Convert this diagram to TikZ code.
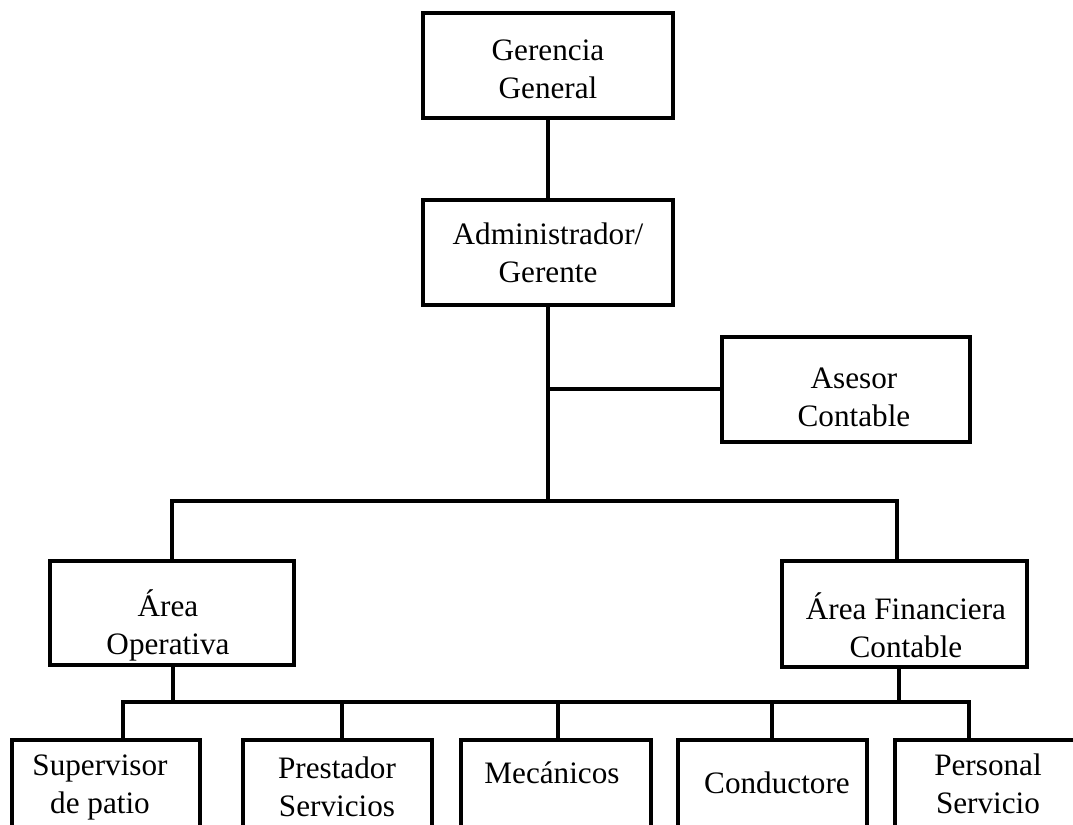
\documentclass[tikz,border=0pt]{standalone}
\usepackage{fontspec}
\setmainfont{Liberation Serif}
\begin{document}
\begin{tikzpicture}[x=0.5pt,y=-0.5pt,
  box/.style={draw=black,line width=2pt,inner sep=0pt,fill=white},
  txt/.style={align=center,font=\fontsize{15.6}{19}\selectfont,inner sep=0pt},
  link/.style={draw=black,line width=1.8pt,line join=miter}]
\clip (0,0) rectangle (1073,825);
\fill[white] (0,0) rectangle (1073,825);
% junction coordinates
\coordinate (mL) at (172,501);
\coordinate (mR) at (897,501);
\coordinate (fd) at (899,702);
\coordinate (od) at (173,702);
\coordinate (lowL) at (123,702);
\coordinate (lowR) at (969,702);
\coordinate (dPre) at (342,702);
\coordinate (dMec) at (558,702);
\coordinate (dCon) at (772,702);
% boxes
\node[box,minimum width=125pt,minimum height=52.5pt] (gg) at (548,65.5) {};
\node[txt] (ggt) at (548,69) {Gerencia\\General};
\node[box,minimum width=125pt,minimum height=52.5pt] (adm) at (548,252.5) {};
\node[txt] (admt) at (548,253) {Administrador/\\Gerente};
\node[box,minimum width=124pt,minimum height=52.5pt] (ase) at (846,389) {};
\node[txt] (aset) at (854,397) {Asesor\\Contable};
\node[box,minimum width=122pt,minimum height=52pt] (aop) at (172,613) {};
\node[txt] (aopt) at (168,625) {Área\\Operativa};
\node[box,minimum width=122.5pt,minimum height=53pt] (afin) at (904.5,614) {};
\node[txt] (afint) at (906,625) {Área Financiera\\Contable};
\node[box,minimum width=94pt,minimum height=60pt] (sup) at (106,800) {};
\node[txt] (supt) at (100,787) {Supervisor\\de patio};
\node[box,minimum width=94.5pt,minimum height=60pt] (pre) at (337.5,800) {};
\node[txt] (pret) at (337,787) {Prestador\\Servicios};
\node[box,minimum width=95pt,minimum height=60pt] (mec) at (556,800) {};
\node[txt] (mect) at (552,773) {Mecánicos};
\node[box,minimum width=94.5pt,minimum height=60pt] (con) at (772.5,800) {};
\node[txt] (cont) at (777,783) {Conductore};
\node[box,minimum width=93pt,minimum height=60pt] (per) at (988,800) {};
\node[txt] (pert) at (988,784) {Personal\\Servicio};
% connectors
\draw[link] (gg.south) -- (adm.north);
\draw[link] (adm.south) -- (adm.south |- mL);
\draw[link] (adm.south |- ase.west) -- (ase.west);
\draw[link] (mL |- aop.north) -- (mL) -- (mR) -- (mR |- afin.north);
\draw[link] (od |- aop.south) -- (od);
\draw[link] (fd |- afin.south) -- (fd);
\draw[link] (lowL |- sup.north) -- (lowL) -- (lowR) -- (lowR |- per.north);
\draw[link] (dPre) -- (dPre |- pre.north);
\draw[link] (dMec) -- (dMec |- mec.north);
\draw[link] (dCon) -- (dCon |- con.north);
\end{tikzpicture}
\end{document}
